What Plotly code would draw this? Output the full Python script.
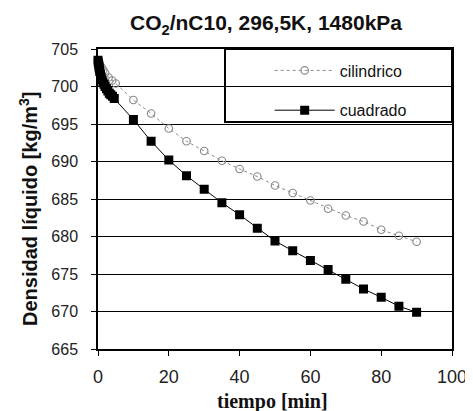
import plotly.graph_objects as go

# Data
t_cil = [0, 0.5, 1, 1.5, 2, 3, 4, 5, 10, 15, 20, 25, 30, 35, 40, 45, 50, 55, 60, 65, 70, 75, 80, 85, 90]
rho_cil = [703.5, 703.0, 702.6, 702.2, 701.8, 701.2, 700.8, 700.4, 698.2, 696.4, 694.4, 692.7, 691.4,
           690.1, 689.0, 688.0, 686.8, 685.8, 684.8, 683.7, 682.8, 682.0, 680.9, 680.1, 679.3]

t_cua = [0, 0.1, 0.2, 0.3, 0.4, 0.5, 0.7, 0.9, 1.1, 1.4, 1.7, 2.0, 2.4, 2.8, 3.2, 3.6, 4.1, 4.6,
         10, 15, 20, 25, 30, 35, 40, 45, 50, 55, 60, 65, 70, 75, 80, 85, 90]
rho_cua = [703.5, 703.2, 702.9, 702.6, 702.3, 702.0, 701.6, 701.2, 700.9, 700.6, 700.3, 700.0, 699.7,
           699.4, 699.1, 698.9, 698.7, 698.4,
           695.6, 692.7, 690.2, 688.1, 686.3, 684.5, 682.9, 681.1, 679.4, 678.1, 676.8, 675.6,
           674.3, 673.0, 671.9, 670.7, 669.9]

series_names = ["cilindrico", "cuadrado"]
x_ticks = [0, 20, 40, 60, 80, 100]
y_ticks = [665, 670, 675, 680, 685, 690, 695, 700, 705]

fig = go.Figure()
fig.add_trace(go.Scatter(
    x=t_cil, y=rho_cil, name=series_names[0], mode="lines+markers",
    line=dict(color="#8a8a8a", width=1, dash="dot"),
    marker=dict(symbol="circle-open", size=7.5, color="#8a8a8a", line=dict(width=1.2)),
    cliponaxis=False, legendgroup="a",
))
fig.add_trace(go.Scatter(
    x=t_cua, y=rho_cua, name=series_names[1], mode="lines+markers",
    line=dict(color="black", width=1),
    marker=dict(symbol="square", size=9, color="black"),
    cliponaxis=False, legendgroup="b",
))

# page body adds an 8px offset; figure is sized so it fits the 473x411 window
OFF = 8
W, H = 473 - OFF, 411 - OFF
L, T = 98 - OFF, 49 - OFF
R = 473 - 452
B = 411 - 349
PW = W - L - R
PH = H - T - B

fig.update_layout(
    width=W, height=H,
    margin=dict(l=L, r=R, t=T, b=B, autoexpand=False),
    paper_bgcolor="white", plot_bgcolor="white",
    font=dict(family="Liberation Sans, Arial, sans-serif", color="#222"),
    title=dict(text="<b>CO<sub>2</sub>/nC10, 296,5K, 1480kPa</b>", x=(266 - 98) / PW,
               xref="paper", xanchor="center", y=1 - (23 - OFF) / H, yanchor="middle",
               font=dict(size=21, color="#111")),
    showlegend=True,
    legend=dict(x=0.485, y=0.985, xanchor="left", yanchor="top",
                bgcolor="rgba(0,0,0,0)", borderwidth=0,
                font=dict(size=16, color="#111"),
                traceorder="grouped", tracegroupgap=16, itemwidth=60),
    shapes=[dict(type="rect", xref="paper", yref="paper",
                 x0=(225 - 98) / PW, x1=1, y0=(349 - 122) / PH, y1=1,
                 line=dict(color="black", width=2), fillcolor="rgba(0,0,0,0)", layer="above")],
    annotations=[
        dict(text="<b>Densidad líquido [kg/m<sup>3</sup>]</b>", xref="paper", yref="paper",
             x=0, y=0.5, xshift=-(98 - 28), yshift=-10, textangle=-90, showarrow=False,
             xanchor="center", yanchor="middle", font=dict(size=20, color="#111")),
        dict(text="<b>tiempo [min]</b>", xref="paper", yref="paper",
             x=(272 - 98) / PW, y=0, yshift=-(401 - 349), showarrow=False,
             xanchor="center", yanchor="middle",
             font=dict(size=20, family="Liberation Serif, Times New Roman, serif", color="#111")),
    ],
)
fig.update_xaxes(range=[0, 100], tickvals=x_ticks, ticks="outside", ticklen=5,
                 tickcolor="black", showline=True, linecolor="black", linewidth=1.5,
                 mirror=True, showgrid=False, zeroline=False, automargin=False,
                 tickfont=dict(size=18, color="#222"), ticklabelstandoff=6)
fig.update_yaxes(range=[665, 705], tickvals=y_ticks, ticks="outside", ticklen=5,
                 tickcolor="black", showline=True, linecolor="black", linewidth=1.5,
                 mirror=True, showgrid=True, gridcolor="black", gridwidth=1, zeroline=False,
                 automargin=False,
                 tickfont=dict(size=16, color="#222"), ticklabelstandoff=10)

fig.write_html("out.html")
